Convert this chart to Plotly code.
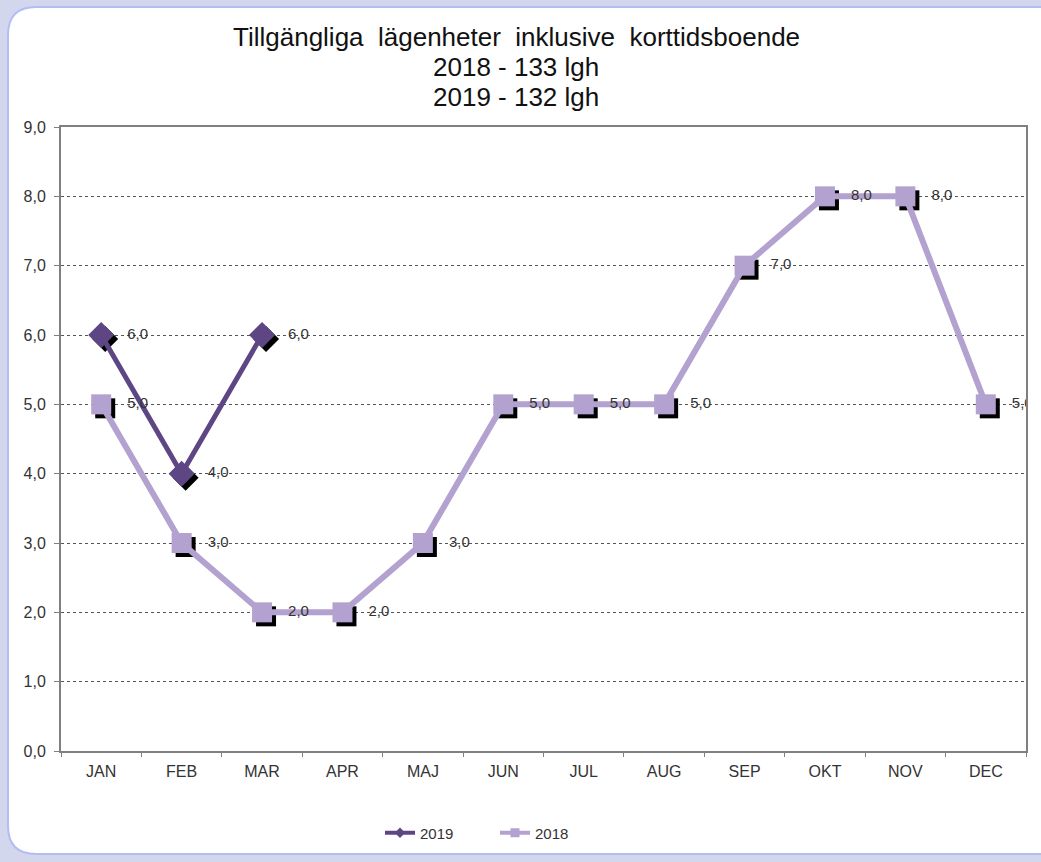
import plotly.graph_objects as go

months = ["JAN", "FEB", "MAR", "APR", "MAJ", "JUN", "JUL", "AUG", "SEP", "OKT", "NOV", "DEC"]
v2019 = [6.0, 4.0, 6.0]
v2018 = [5.0, 3.0, 2.0, 2.0, 3.0, 5.0, 5.0, 5.0, 7.0, 8.0, 8.0, 5.0]
title_lines = ["Tillgängliga  lägenheter  inklusive  korttidsboende", "2018 - 133 lgh", "2019 - 132 lgh"]

W, H = 1041, 862
L, R, T, B = 61, 1026, 127, 751
pw, ph = R - L, B - T
YMAX = 9

def px(x):
    return (x - L) / pw

def py(y):
    return (B - y) / ph

# shadow offset in pixels
sx, sy = 4, 4
dx = sx / (pw / 12)
dy = sy / (ph / YMAX)

C19 = "#5e4684"
C18 = "#b3a2d0"
NB = "\u00a0"
LBL = dict(family="Liberation Sans, Arial", size=15, color="#333333")

def fmt(v):
    return NB * 3 + f"{v:.1f}".replace(".", ",")

fig = go.Figure()

# shadows (on base axes, shifted)
fig.add_trace(go.Scatter(x=months, y=v2018, mode="markers", xaxis="x", yaxis="y",
                         marker=dict(symbol="square", size=20, color="black"),
                         showlegend=False, hoverinfo="skip"))
fig.add_trace(go.Scatter(x=months[:len(v2019)], y=v2019, mode="markers", xaxis="x", yaxis="y",
                         marker=dict(symbol="diamond", size=20, color="black"),
                         showlegend=False, hoverinfo="skip"))

# main traces
fig.add_trace(go.Scatter(x=months[:len(v2019)], y=v2019, name="2019", mode="lines+markers+text",
                         xaxis="x2", yaxis="y2", showlegend=False,
                         line=dict(color=C19, width=5),
                         marker=dict(symbol="diamond", size=20, color=C19),
                         text=[fmt(v) for v in v2019],
                         textposition="middle right", textfont=LBL))
fig.add_trace(go.Scatter(x=months, y=v2018, name="2018", mode="lines+markers+text",
                         xaxis="x2", yaxis="y2", showlegend=False,
                         line=dict(color=C18, width=6),
                         marker=dict(symbol="square", size=20, color=C18),
                         text=[fmt(v) for v in v2018],
                         textposition="middle right", textfont=LBL))

# legend entries (small markers like the original legend)
fig.add_trace(go.Scatter(x=[None], y=[None], name="2019", mode="lines+markers",
                         xaxis="x2", yaxis="y2",
                         line=dict(color=C19, width=4),
                         marker=dict(symbol="diamond", size=8, color=C19)))
fig.add_trace(go.Scatter(x=[None], y=[None], name="2018", mode="lines+markers",
                         xaxis="x2", yaxis="y2",
                         line=dict(color=C18, width=4),
                         marker=dict(symbol="square", size=9, color=C18)))

# rounded white panel
x0, x1 = px(8), px(1060)
y0, y1 = py(854), py(7)
rx = 28 / pw
ry = 28 / ph
path = (f"M {x0+rx} {y1} L {x1} {y1} L {x1} {y0} L {x0+rx} {y0} "
        f"Q {x0} {y0} {x0} {y0+ry} L {x0} {y1-ry} Q {x0} {y1} {x0+rx} {y1} Z")

title_y = [37, 67, 97]
annotations = [dict(text=t.replace("  ", " " + NB), xref="paper", yref="paper",
                    x=px(516), y=py(yy), xanchor="center", yanchor="middle",
                    showarrow=False,
                    font=dict(family="Liberation Sans, Arial", size=26, color="#111111"))
               for t, yy in zip(title_lines, title_y)]

fig.update_layout(
    width=W, height=H,
    margin=dict(l=L, r=W - R, t=T, b=H - B),
    paper_bgcolor="#d3d7ee",
    plot_bgcolor="rgba(0,0,0,0)",
    separators=",.",
    font=dict(family="Liberation Sans, Arial", color="#333333"),
    shapes=[dict(type="path", xref="paper", yref="paper", path=path,
                 fillcolor="white", line=dict(color="#b4bcf2", width=2), layer="below")],
    annotations=annotations,
    xaxis=dict(type="category", categoryarray=months, range=[-0.5 - dx, 11.5 - dx],
               visible=False, fixedrange=True),
    yaxis=dict(range=[0 + dy, YMAX + dy], visible=False, fixedrange=True),
    xaxis2=dict(type="category", categoryarray=months, range=[-0.5, 11.5], overlaying="x",
                anchor="y2", showline=True, linecolor="#808080", linewidth=2, mirror=True,
                ticks="outside", ticklen=4, tickcolor="#808080", tickson="boundaries",
                ticklabelstandoff=5,
                showgrid=False, tickfont=dict(size=16, color="#333333")),
    yaxis2=dict(range=[0, YMAX], overlaying="y", anchor="x2", dtick=1, tickformat=".1f",
                showline=True, linecolor="#808080", linewidth=2, mirror=True,
                ticks="outside", ticklen=5, tickcolor="#808080", ticklabelstandoff=5,
                showgrid=True, gridcolor="#555555", gridwidth=1, griddash="dot",
                zeroline=False, tickfont=dict(size=16, color="#333333")),
    legend=dict(orientation="h", x=px(380), xanchor="left", y=py(833), yanchor="middle",
                font=dict(size=15, color="#333333"), bgcolor="rgba(0,0,0,0)",
                entrywidth=70, entrywidthmode="pixels",
                traceorder="normal"),
)

fig.write_html("out.html", config={"displayModeBar": False},
               post_script="document.body.style.margin='0';document.body.style.background='#d3d7ee';")
